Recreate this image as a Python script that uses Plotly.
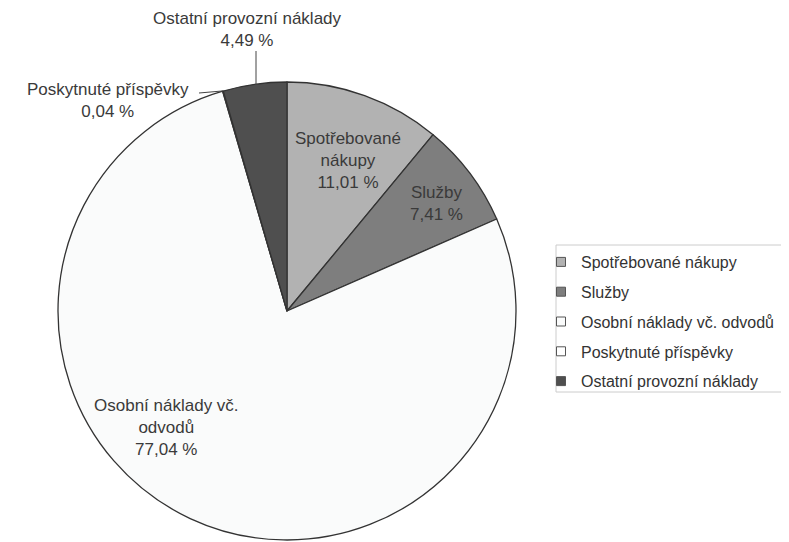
import plotly.graph_objects as go

W, H = 789, 542
OX, OY = 8, 8  # page offset of the figure (body margin)

categories = ["Spotřebované nákupy", "Služby", "Osobní náklady vč. odvodů",
              "Poskytnuté příspěvky", "Ostatní provozní náklady"]
shares = [11.01, 7.41, 77.04, 0.04, 4.49]
label_texts = ["Spotřebované<br>nákupy<br>11,01 %", "Služby<br>7,41 %",
               "Osobní náklady vč.<br>odvodů<br>77,04 %",
               "Poskytnuté příspěvky<br>0,04 %", "Ostatní provozní náklady<br>4,49 %"]
colors = ["#b2b2b2", "#7e7e7e", "#fafbfb", "#ffffff", "#4f4f4f"]

def px(x):
    return (x - OX) / W

def py(y):
    return 1 - (y - OY) / H

cx, cy, r = 287, 311, 229
FONT = "Liberation Sans, Arial"

fig = go.Figure()
fig.add_trace(go.Pie(
    labels=categories, values=shares, sort=False, direction="clockwise", rotation=0,
    marker=dict(colors=colors, line=dict(color="#333333", width=1.3)),
    textinfo="none", hoverinfo="label+percent", showlegend=False,
    domain=dict(x=[px(cx - r), px(cx + r)], y=[py(cy + r), py(cy - r)]),
))

# legend entries as dummy traces for spacing control
for cat, col in zip(categories, colors):
    fig.add_trace(go.Scatter(
        x=[None], y=[None], mode="markers", name=cat, legendgroup=cat,
        marker=dict(symbol="square", size=9, color=col, line=dict(color="#555555", width=1)),
    ))

label_pos = [(348, 160), (436, 203), (166, 427), (108, 100), (247, 29)]
annotations = []
for t, (x, y) in zip(label_texts, label_pos):
    annotations.append(dict(x=px(x), y=py(y), xref="paper", yref="paper", text=t,
                            showarrow=False, xanchor="center", yanchor="middle",
                            font=dict(family=FONT, size=17, color="#3a3a3a"),
                            align="center"))

shapes = [
    dict(type="line", xref="paper", yref="paper", x0=px(256), y0=py(51), x1=px(256), y1=py(84),
         line=dict(color="#444444", width=1)),
    dict(type="line", xref="paper", yref="paper", x0=px(199), y0=py(93), x1=px(222), y1=py(91),
         line=dict(color="#444444", width=1)),
    dict(type="rect", xref="paper", yref="paper", x0=px(556), y0=py(392), x1=px(800), y1=py(245),
         line=dict(color="#cccccc", width=1), fillcolor="rgba(0,0,0,0)"),
]

fig.update_layout(
    width=W, height=H, margin=dict(l=0, r=0, t=0, b=0),
    paper_bgcolor="white", plot_bgcolor="white",
    xaxis=dict(visible=False), yaxis=dict(visible=False),
    annotations=annotations, shapes=shapes,
    legend=dict(x=px(541), y=py(245), xanchor="left", yanchor="top",
                borderwidth=0, bgcolor="rgba(0,0,0,0)",
                font=dict(family=FONT, size=16, color="#333333"),
                tracegroupgap=6, itemwidth=30),
    showlegend=True,
)

fig.write_html("out.html")
